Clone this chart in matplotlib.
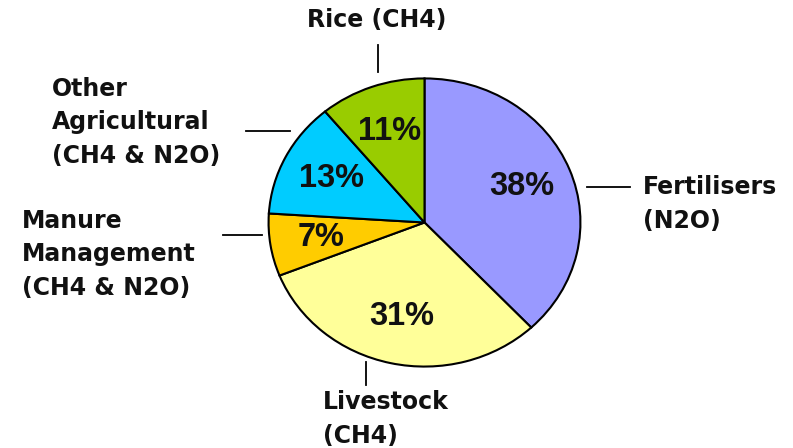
import matplotlib
matplotlib.use("Agg")
import matplotlib.pyplot as plt
from matplotlib.lines import Line2D

# data
labels = ["Fertilisers\n(N2O)", "Livestock\n(CH4)", "Manure\nManagement\n(CH4 & N2O)",
          "Other\nAgricultural\n(CH4 & N2O)", "Rice (CH4)"]
shares = [38, 31, 7, 13, 11]
colors = ["#9999FF", "#FFFF99", "#FFCC00", "#00CCFF", "#99CC00"]

W, H = 793, 448
plt.rcParams["font.family"] = ["Liberation Sans", "DejaVu Sans"]
fig = plt.figure(figsize=(W / 100, H / 100), dpi=100)

# pie is slightly stretched horizontally in the original
ax = fig.add_axes([267 / W, 1 - 368 / H, 315 / W, 291 / H])
ax.pie(
    shares,
    colors=colors,
    startangle=90,
    counterclock=False,
    autopct="%d%%",
    pctdistance=0.67,
    wedgeprops={"edgecolor": "black", "linewidth": 1.5},
    textprops={"fontsize": 23.5, "fontweight": "bold", "color": "#111111"},
)
ax.set_aspect("auto")
ax.set_xlim(-1.01, 1.01)
ax.set_ylim(-1.01, 1.01)


def px(x, y):
    return x / W, 1 - y / H


# label text: (x, y) in pixels, ha
label_pos = [
    (643, 204, "left"),   # Fertilisers
    (323, 419, "left"),   # Livestock
    (22, 254, "left"),    # Manure
    (52, 122, "left"),    # Other
    (377, 20, "center"),  # Rice
]
# leader lines in pixels
leaders = [
    ((587, 187), (630, 187)),
    ((366, 362), (366, 385)),
    ((223, 235), (262, 235)),
    ((246, 131), (290, 131)),
    ((378, 45), (378, 72)),
]

for lab, (x, y, ha) in zip(labels, label_pos):
    fx, fy = px(x, y)
    fig.text(fx, fy, lab, ha=ha, va="center", fontsize=17, fontweight="bold",
             color="#111111", linespacing=1.5, family="DejaVu Sans")

for (x0, y0), (x1, y1) in leaders:
    a = px(x0, y0)
    b = px(x1, y1)
    fig.add_artist(Line2D([a[0], b[0]], [a[1], b[1]], color="black", linewidth=1.3))

fig.savefig("out.png", dpi=100)
